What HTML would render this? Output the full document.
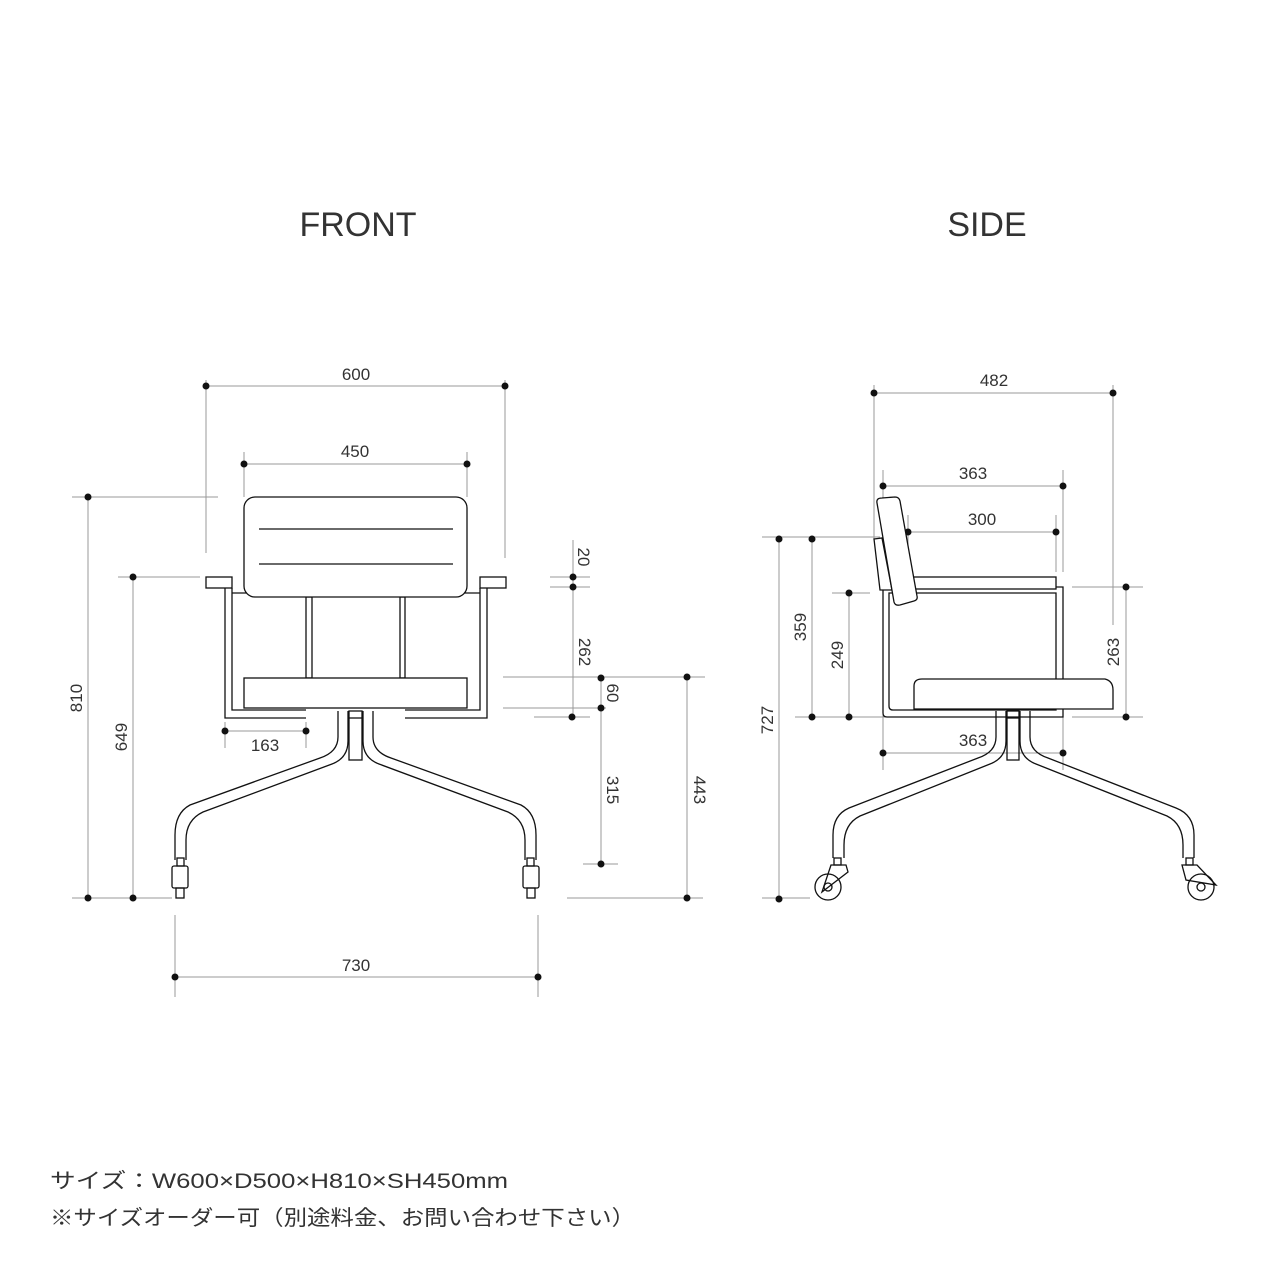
<!DOCTYPE html>
<html><head><meta charset="utf-8"><style>
html,body{margin:0;padding:0;background:#fff;}
svg{display:block;}
text{font-family:"Liberation Sans","Noto Sans CJK JP",sans-serif;fill:#333;}
</style></head><body>
<svg width="1280" height="1280" viewBox="0 0 1280 1280" xmlns="http://www.w3.org/2000/svg">
<rect width="1280" height="1280" fill="#fff"/>
<text x="358" y="236" font-size="34" text-anchor="middle">FRONT</text>
<text x="987" y="236" font-size="34" text-anchor="middle">SIDE</text>

<!-- dimension lines -->
<g stroke="#999" stroke-width="1" fill="none">
<!-- front -->
<line x1="206" y1="380" x2="206" y2="553"/><line x1="505" y1="380" x2="505" y2="558"/>
<line x1="206" y1="386" x2="505" y2="386"/>
<line x1="244" y1="452" x2="244" y2="497"/><line x1="467" y1="452" x2="467" y2="497"/>
<line x1="244" y1="464" x2="467" y2="464"/>
<line x1="72" y1="497" x2="218" y2="497"/><line x1="88" y1="497" x2="88" y2="898"/>
<line x1="118" y1="577" x2="200" y2="577"/><line x1="133" y1="577" x2="133" y2="898"/>
<line x1="72" y1="898" x2="172" y2="898"/>
<line x1="175" y1="915" x2="175" y2="997"/><line x1="538" y1="915" x2="538" y2="997"/>
<line x1="175" y1="977" x2="538" y2="977"/>
<line x1="225" y1="722" x2="225" y2="748"/><line x1="306" y1="722" x2="306" y2="748"/>
<line x1="225" y1="731" x2="306" y2="731"/>
<line x1="550" y1="577" x2="590" y2="577"/><line x1="550" y1="587" x2="590" y2="587"/>
<line x1="573" y1="540" x2="573" y2="717"/>
<line x1="503" y1="677" x2="705" y2="677"/><line x1="503" y1="708" x2="606" y2="708"/>
<line x1="534" y1="717" x2="590" y2="717"/>
<line x1="601" y1="677" x2="601" y2="864"/>
<line x1="583" y1="864" x2="618" y2="864"/>
<line x1="567" y1="898" x2="703" y2="898"/>
<line x1="687" y1="677" x2="687" y2="898"/>
<!-- side -->
<line x1="874" y1="385" x2="874" y2="540"/><line x1="1113" y1="385" x2="1113" y2="625"/>
<line x1="874" y1="393" x2="1113" y2="393"/>
<line x1="883" y1="470" x2="883" y2="500"/><line x1="1063" y1="470" x2="1063" y2="572"/>
<line x1="883" y1="486" x2="1063" y2="486"/>
<line x1="908" y1="515" x2="908" y2="572"/><line x1="1056" y1="515" x2="1056" y2="572"/>
<line x1="908" y1="532" x2="1056" y2="532"/>
<line x1="762" y1="537" x2="880" y2="537"/>
<line x1="779" y1="537" x2="779" y2="898"/><line x1="762" y1="898" x2="810" y2="898"/>
<line x1="812" y1="537" x2="812" y2="717"/>
<line x1="832" y1="593" x2="870" y2="593"/><line x1="849" y1="593" x2="849" y2="717"/>
<line x1="795" y1="717" x2="885" y2="717"/>
<line x1="1072" y1="587" x2="1143" y2="587"/><line x1="1072" y1="717" x2="1143" y2="717"/>
<line x1="1126" y1="587" x2="1126" y2="717"/>
<line x1="883" y1="700" x2="883" y2="770"/><line x1="1063" y1="700" x2="1063" y2="770"/>
<line x1="883" y1="753" x2="1063" y2="753"/>
</g>
<g fill="#111">
<circle cx="206" cy="386" r="3.5"/><circle cx="505" cy="386" r="3.5"/>
<circle cx="244" cy="464" r="3.5"/><circle cx="467" cy="464" r="3.5"/>
<circle cx="88" cy="497" r="3.5"/><circle cx="88" cy="898" r="3.5"/>
<circle cx="133" cy="577" r="3.5"/><circle cx="133" cy="898" r="3.5"/>
<circle cx="175" cy="977" r="3.5"/><circle cx="538" cy="977" r="3.5"/>
<circle cx="225" cy="731" r="3.5"/><circle cx="306" cy="731" r="3.5"/>
<circle cx="573" cy="577" r="3.5"/><circle cx="573" cy="587" r="3.5"/><circle cx="572" cy="717" r="3.5"/>
<circle cx="601" cy="678" r="3.5"/><circle cx="601" cy="708" r="3.5"/><circle cx="601" cy="864" r="3.5"/>
<circle cx="687" cy="677" r="3.5"/><circle cx="687" cy="898" r="3.5"/>
<circle cx="874" cy="393" r="3.5"/><circle cx="1113" cy="393" r="3.5"/>
<circle cx="883" cy="486" r="3.5"/><circle cx="1063" cy="486" r="3.5"/>
<circle cx="908" cy="532" r="3.5"/><circle cx="1056" cy="532" r="3.5"/>
<circle cx="779" cy="539" r="3.5"/><circle cx="779" cy="899" r="3.5"/>
<circle cx="812" cy="539" r="3.5"/><circle cx="812" cy="717" r="3.5"/>
<circle cx="849" cy="593" r="3.5"/><circle cx="849" cy="717" r="3.5"/>
<circle cx="1126" cy="587" r="3.5"/><circle cx="1126" cy="717" r="3.5"/>
<circle cx="883" cy="753" r="3.5"/><circle cx="1063" cy="753" r="3.5"/>
</g>
<g font-size="17">
<text x="356" y="380" text-anchor="middle">600</text>
<text x="355" y="457" text-anchor="middle">450</text>
<text x="356" y="971" text-anchor="middle">730</text>
<text x="265" y="751" text-anchor="middle">163</text>
<text transform="translate(82,698) rotate(-90)" text-anchor="middle">810</text>
<text transform="translate(127,737) rotate(-90)" text-anchor="middle">649</text>
<text transform="translate(578,557) rotate(90)" text-anchor="middle">20</text>
<text transform="translate(579,652) rotate(90)" text-anchor="middle">262</text>
<text transform="translate(607,693) rotate(90)" text-anchor="middle">60</text>
<text transform="translate(607,790) rotate(90)" text-anchor="middle">315</text>
<text transform="translate(694,790) rotate(90)" text-anchor="middle">443</text>
<text x="994" y="386" text-anchor="middle">482</text>
<text x="973" y="479" text-anchor="middle">363</text>
<text x="982" y="525" text-anchor="middle">300</text>
<text x="973" y="746" text-anchor="middle">363</text>
<text transform="translate(806,627) rotate(-90)" text-anchor="middle">359</text>
<text transform="translate(843,655) rotate(-90)" text-anchor="middle">249</text>
<text transform="translate(1119,652) rotate(-90)" text-anchor="middle">263</text>
<text transform="translate(773,720) rotate(-90)" text-anchor="middle">727</text>
</g>

<!-- FRONT chair -->
<g stroke="#111" stroke-width="1.3" fill="none">
<path d="M225 588 V718 H306 M232 588 V710 H306"/>
<path d="M487 588 V718 H405 M480 588 V710 H405"/>
<line x1="232" y1="593" x2="480" y2="593"/>
<rect x="206" y="577" width="26" height="11" fill="#fff"/>
<rect x="480" y="577" width="26" height="11" fill="#fff"/>
<rect x="306" y="597" width="6" height="81"/><rect x="400" y="597" width="5" height="81"/>
<rect x="244" y="497" width="223" height="100" rx="11" fill="#fff"/>
<line x1="259" y1="529" x2="453" y2="529"/><line x1="259" y1="564" x2="453" y2="564"/>
<rect x="244" y="678" width="223" height="30" fill="#fff"/>
<rect x="349" y="711" width="13" height="49"/><line x1="349" y1="718" x2="362" y2="718"/>
<path d="M338 711 V737 Q338 752 320 758 L190 805 Q175 813 175 835 V860"/>
<path d="M348 711 V741 Q348 758 332 764 L203 812 Q186 820 186 840 V860"/>
<path d="M373 711 V737 Q373 752 391 758 L521 805 Q536 813 536 835 V860"/>
<path d="M363 711 V741 Q363 758 379 764 L508 812 Q525 820 525 840 V860"/>
<rect x="177" y="858" width="7" height="8"/><rect x="172" y="866" width="16" height="22" rx="2"/><rect x="176" y="888" width="8" height="10"/>
<rect x="527" y="858" width="7" height="8"/><rect x="523" y="866" width="16" height="22" rx="2"/><rect x="527" y="888" width="8" height="10"/>
</g>

<!-- SIDE chair -->
<g stroke="#111" stroke-width="1.3" fill="none">
<path d="M883 587 H1063 V717 H887 Q883 717 883 713 Z"/>
<path d="M889 593 H1056 V710 H893 Q889 710 889 706 Z"/>
<rect x="908" y="577" width="148" height="12" fill="#fff"/>
<path d="M874 539 L882 538 L892 590 L880 590 Z" fill="#fff"/>
<path d="M877 503 Q876 498 882 498 L895 497 Q899 497 900 501 L917 596 Q918 600 914 601 L900 605 Q895 606 894 602 Z" fill="#fff"/>
<path d="M914 709 V686 Q914 679 922 679 H1105 Q1113 681 1113 690 V709 Z" fill="#fff"/>
<rect x="1007" y="711" width="12" height="49"/><line x1="1007" y1="718" x2="1019" y2="718"/>
<path d="M996 711 V737 Q996 752 978 758 L849 808 Q833 815 833 835 V858"/>
<path d="M1006 711 V741 Q1006 758 990 764 L860 816 Q844 824 844 845 V858"/>
<path d="M1030 711 V737 Q1030 752 1048 758 L1176 808 Q1194 815 1194 835 V858"/>
<path d="M1020 711 V741 Q1020 758 1036 764 L1167 816 Q1183 824 1183 845 V858"/>
<rect x="834" y="858" width="7" height="7"/><path d="M831 865 H846 L848 872 L822 892 Z"/>
<circle cx="828" cy="887" r="13"/><circle cx="828" cy="887" r="4"/>
<rect x="1186" y="858" width="7" height="7"/><path d="M1182 865 H1197 L1216 885 L1186 880 Z"/>
<circle cx="1201" cy="887" r="13"/><circle cx="1201" cy="887" r="4"/>
</g>

<text x="50" y="1188" font-size="21" textLength="458" lengthAdjust="spacingAndGlyphs">サイズ：W600×D500×H810×SH450mm</text>
<text x="50" y="1225" font-size="21" textLength="585" lengthAdjust="spacingAndGlyphs">※サイズオーダー可（別途料金、お問い合わせ下さい）</text>
</svg>
</body></html>
